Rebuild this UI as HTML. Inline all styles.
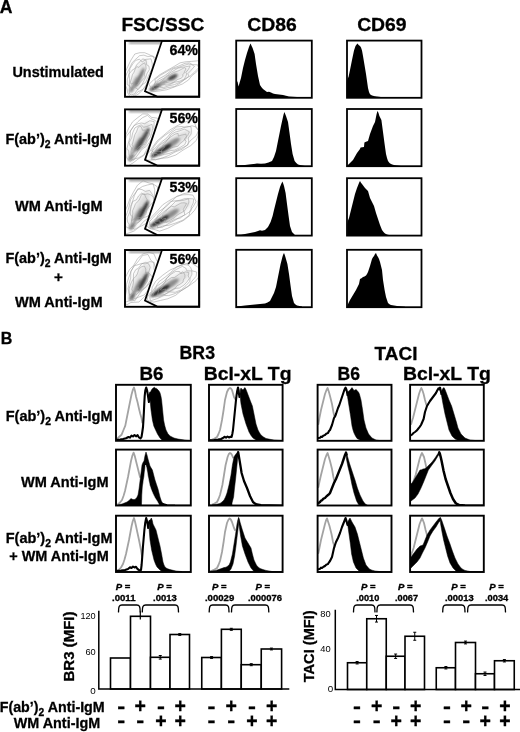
<!DOCTYPE html>
<html lang="en"><head><meta charset="utf-8"><title>Figure</title>
<style>
html,body{margin:0;padding:0;background:#fff;}
svg{display:block;font-family:"Liberation Sans",Arial,Helvetica,sans-serif;fill:#000;}
text[font-weight="bold"]{stroke:#000;stroke-width:.3px;}
</style></head><body>
<svg width="520" height="732" viewBox="0 0 520 732">
<defs>
<filter id="b1" x="-50%" y="-50%" width="200%" height="200%"><feGaussianBlur stdDeviation="0.95"/></filter>
<filter id="b2" x="-50%" y="-50%" width="200%" height="200%"><feGaussianBlur stdDeviation="2.4"/></filter>
</defs>
<rect x="0" y="0" width="520" height="732" fill="#fff"/>
<text x="-0.2" y="12.7" font-size="17.6" font-weight="bold" text-anchor="start" >A</text>
<text x="162.8" y="31" font-size="19" font-weight="bold" text-anchor="middle" textLength="82.8" lengthAdjust="spacingAndGlyphs" >FSC/SSC</text>
<text x="272" y="30.7" font-size="19" font-weight="bold" text-anchor="middle" textLength="49.5" lengthAdjust="spacingAndGlyphs" >CD86</text>
<text x="381.9" y="30.7" font-size="19" font-weight="bold" text-anchor="middle" textLength="49.5" lengthAdjust="spacingAndGlyphs" >CD69</text>
<text x="12.4" y="77" font-size="15.2" font-weight="bold" text-anchor="start" textLength="91.5" lengthAdjust="spacingAndGlyphs" >Unstimulated</text>
<text x="5.4" y="144" font-size="15.2" font-weight="bold" text-anchor="start" textLength="106.5" lengthAdjust="spacingAndGlyphs" >F(ab’)<tspan font-size="10.94" dy="4.1">2</tspan><tspan dy="-4.1"> Anti-IgM</tspan></text>
<text x="15" y="210.5" font-size="15.2" font-weight="bold" text-anchor="start" textLength="87.5" lengthAdjust="spacingAndGlyphs" >WM Anti-IgM</text>
<text x="5.4" y="263" font-size="15.2" font-weight="bold" text-anchor="start" textLength="106.5" lengthAdjust="spacingAndGlyphs" >F(ab’)<tspan font-size="10.94" dy="4.1">2</tspan><tspan dy="-4.1"> Anti-IgM</tspan></text>
<text x="58.5" y="282.1" font-size="15.2" font-weight="bold" text-anchor="middle" >+</text>
<text x="15" y="307" font-size="15.2" font-weight="bold" text-anchor="start" textLength="87.5" lengthAdjust="spacingAndGlyphs" >WM Anti-IgM</text>
<clipPath id="cL0"><polygon points="125,40.8 161.5,40.8 144.3,91.6 156.5,96.8 125,96.8"/></clipPath>
<clipPath id="cR0"><polygon points="162.5,40.8 199.2,40.8 199.2,96.8 158,96.8 145.7,91"/></clipPath>
<g clip-path="url(#cL0)">
<rect x="129" y="41.6" width="33" height="2" fill="#555" opacity="0.7" filter="url(#b1)"/>
<ellipse cx="138.3" cy="75.8" rx="18.4" ry="4.96" transform="rotate(-64 138.3 75.8)" fill="#777" opacity="0.2" filter="url(#b2)"/>
<ellipse cx="139.5" cy="77.8" rx="11" ry="1.9" transform="rotate(-64 139.5 77.8)" fill="#181818" opacity="0.55" filter="url(#b1)"/>
<ellipse cx="134.5" cy="82.8" rx="7" ry="1.6" transform="rotate(-66 134.5 82.8)" fill="#181818" opacity="0.35" filter="url(#b1)"/>
<ellipse cx="131.5" cy="89.8" rx="3.2" ry="2" transform="rotate(-60 131.5 89.8)" fill="#181818" opacity="0.4" filter="url(#b1)"/>
<path d="M148.7,54.4 L152.8,56.5 L157.6,58.6 L157.5,65.1 L154.6,72.2 L152.0,78.4 L147.6,84.3 L143.0,89.7 L138.2,94.2 L133.9,96.6 L129.3,100.9 L125.8,101.4 L125.3,96.4 L124.7,92.0 L124.7,86.6 L124.4,80.7 L124.6,73.5 L127.8,66.6 L130.9,60.2 L134.8,54.0 L139.8,52.7 L144.6,52.7Z M147.7,56.5 L153.1,56.0 L155.0,60.9 L152.9,67.7 L151.5,72.8 L149.1,77.9 L146.8,83.6 L142.9,89.4 L138.2,91.7 L134.2,95.3 L130.5,97.5 L129.0,94.9 L127.6,92.7 L127.1,89.2 L125.6,85.8 L123.9,80.9 L126.6,73.8 L129.6,68.2 L132.1,62.7 L135.7,59.2 L139.6,55.7 L143.9,55.1Z M146.3,59.4 L151.0,58.8 L152.2,63.4 L152.3,68.1 L149.7,73.2 L147.7,77.6 L145.6,82.5 L141.4,85.1 L138.2,88.6 L134.5,93.9 L131.4,94.9 L129.4,94.0 L129.5,89.7 L129.8,85.9 L127.2,84.6 L127.3,79.7 L129.0,74.2 L130.0,68.5 L132.7,64.0 L135.8,60.3 L139.4,59.3 L142.1,61.9Z M146.0,60.0 L146.6,64.7 L149.0,66.2 L149.3,69.7 L146.8,73.9 L145.9,77.3 L143.9,80.9 L141.6,85.6 L138.2,89.7 L135.7,87.8 L134.1,87.6 L131.8,89.1 L130.8,87.7 L129.3,86.5 L129.4,82.8 L129.6,78.9 L129.0,74.2 L132.0,70.3 L134.9,68.5 L136.6,65.0 L139.2,62.2 L142.9,58.9Z M144.6,62.8 L145.8,65.7 L146.1,68.8 L144.6,72.3 L144.3,74.4 L145.2,77.1 L142.7,79.8 L140.4,82.1 L138.2,85.3 L136.1,86.1 L134.5,86.4 L134.1,84.5 L134.0,82.6 L131.2,84.2 L130.3,82.2 L131.6,78.2 L132.4,74.8 L134.1,72.1 L135.2,69.2 L136.8,66.6 L138.9,67.4 L141.3,64.8Z" fill="none" stroke="#9c9c9c" stroke-width="0.55"/>
</g>
<g clip-path="url(#cR0)">
<ellipse cx="174" cy="76.8" rx="20" ry="4.03" transform="rotate(-27 174 76.8)" fill="#777" opacity="0.2" filter="url(#b2)"/>
<ellipse cx="172.5" cy="77.3" rx="5.5" ry="2.4" transform="rotate(-28 172.5 77.3)" fill="#181818" opacity="0.75" filter="url(#b1)"/>
<ellipse cx="155" cy="87.3" rx="6.5" ry="2.1" transform="rotate(-30 155 87.3)" fill="#181818" opacity="0.8" filter="url(#b1)"/>
<ellipse cx="163" cy="82.8" rx="5" ry="1.8" transform="rotate(-30 163 82.8)" fill="#181818" opacity="0.4" filter="url(#b1)"/>
<path d="M200.4,63.3 L200.6,67.0 L196.9,71.7 L191.6,75.9 L188.6,79.9 L182.4,84.0 L174.6,86.9 L167.0,89.7 L160.4,90.8 L154.8,91.5 L151.0,91.0 L151.8,88.1 L150.1,86.6 L149.2,84.2 L153.6,79.7 L159.4,74.9 L166.6,70.7 L173.2,67.0 L180.2,62.8 L186.2,61.7 L191.5,61.4 L197.8,60.8Z M197.6,64.8 L198.6,67.8 L194.5,72.2 L190.3,75.9 L184.9,79.1 L180.8,82.6 L174.6,86.5 L168.1,87.6 L162.1,89.1 L156.7,90.0 L154.6,88.8 L153.0,87.5 L154.8,84.7 L155.5,82.4 L154.9,79.5 L160.7,75.1 L167.4,71.3 L173.3,68.0 L178.8,66.0 L185.0,63.3 L189.8,62.9 L192.2,64.6Z M194.5,66.4 L190.7,70.7 L187.8,73.7 L188.9,76.0 L185.3,79.2 L180.2,82.1 L174.5,84.6 L169.2,85.7 L163.5,87.6 L160.3,87.2 L160.6,85.0 L156.4,85.8 L153.9,85.1 L155.1,82.5 L158.6,79.0 L164.9,75.6 L168.8,72.5 L173.3,68.9 L178.1,67.6 L183.0,65.7 L188.4,64.1 L192.0,64.7Z M188.3,69.5 L185.9,72.4 L186.8,73.9 L185.9,76.2 L184.3,79.0 L179.3,81.4 L174.3,82.3 L169.8,84.5 L165.9,85.2 L164.3,84.2 L161.3,84.6 L159.4,84.2 L156.6,84.0 L157.2,81.8 L163.8,78.3 L166.9,75.9 L169.6,73.1 L173.5,70.8 L177.8,68.2 L181.6,67.4 L185.4,66.8 L190.2,65.9Z M184.7,71.3 L184.1,73.1 L182.6,74.9 L183.1,76.3 L181.0,78.3 L177.3,79.6 L174.3,81.9 L170.4,83.4 L168.1,82.8 L166.5,82.5 L166.4,81.5 L163.3,82.3 L159.9,82.6 L163.1,80.1 L165.4,78.0 L167.5,76.0 L170.8,74.2 L173.6,72.3 L176.3,71.6 L179.0,70.6 L184.4,67.7 L186.0,68.8Z" fill="none" stroke="#9c9c9c" stroke-width="0.55"/>
</g>
<rect x="125" y="40.8" width="74.2" height="56" fill="none" stroke="#000" stroke-width="1.9"/>
<polygon points="162,40.8 199.2,40.8 199.2,96.6 157.3,96.6 145,91.3" fill="none" stroke="#000" stroke-width="1.75" stroke-linejoin="miter"/>
<text x="169.5" y="54.6" font-size="14.3" font-weight="bold" text-anchor="start" textLength="28.5" lengthAdjust="spacingAndGlyphs" >64%</text>
<clipPath id="cL1"><polygon points="125,109.4 161.5,109.4 144.3,160.2 156.5,165.7 125,165.7"/></clipPath>
<clipPath id="cR1"><polygon points="162.5,109.4 199.2,109.4 199.2,165.7 158,165.7 145.7,159.6"/></clipPath>
<g clip-path="url(#cL1)">
<rect x="129" y="110.2" width="33" height="2" fill="#555" opacity="0.7" filter="url(#b1)"/>
<ellipse cx="139.5" cy="139.4" rx="20" ry="5.27" transform="rotate(-61 139.5 139.4)" fill="#777" opacity="0.27" filter="url(#b2)"/>
<ellipse cx="143" cy="139.4" rx="13" ry="2.2" transform="rotate(-61 143 139.4)" fill="#181818" opacity="0.75" filter="url(#b1)"/>
<ellipse cx="137" cy="145.4" rx="9" ry="1.8" transform="rotate(-63 137 145.4)" fill="#181818" opacity="0.45" filter="url(#b1)"/>
<ellipse cx="131" cy="157.4" rx="4" ry="2.2" transform="rotate(-55 131 157.4)" fill="#181818" opacity="0.55" filter="url(#b1)"/>
<path d="M151.7,117.4 L157.2,118.1 L160.8,122.0 L160.5,128.9 L158.0,136.1 L152.8,142.6 L148.7,148.8 L143.8,155.5 L138.2,159.0 L133.1,162.9 L128.3,165.8 L125.4,164.9 L123.5,162.2 L124.4,155.8 L124.9,150.0 L123.4,144.3 L125.2,136.3 L128.5,128.6 L132.5,121.9 L137.5,117.8 L142.8,113.9 L147.9,114.1Z M150.9,118.7 L155.2,120.4 L158.4,124.0 L156.2,131.1 L153.8,136.8 L150.8,142.1 L147.7,147.8 L143.7,155.0 L138.2,158.0 L134.2,158.9 L130.2,161.3 L128.2,159.8 L126.6,157.8 L125.9,154.1 L126.1,149.1 L124.3,144.0 L126.2,136.5 L130.7,130.8 L134.0,125.7 L137.8,121.8 L142.3,117.8 L147.5,115.3Z M149.9,120.7 L154.2,121.7 L153.8,127.7 L154.6,131.9 L153.1,136.9 L149.7,141.9 L146.3,146.4 L142.1,149.1 L138.5,154.0 L133.8,160.2 L131.2,159.1 L129.8,156.8 L129.0,154.4 L128.7,151.1 L127.0,148.4 L128.4,142.8 L130.1,137.3 L130.5,130.6 L134.0,125.6 L138.0,123.7 L141.6,123.0 L144.7,123.7Z M146.6,126.6 L152.0,124.3 L152.7,128.6 L151.7,133.3 L150.3,137.4 L147.4,141.3 L145.3,145.4 L141.8,148.0 L138.8,149.7 L135.1,155.5 L132.0,157.2 L131.0,154.7 L130.8,151.8 L131.8,147.8 L130.1,146.2 L129.2,142.5 L131.7,137.7 L132.7,132.8 L134.9,127.9 L138.2,125.9 L141.4,124.8 L143.5,127.3Z M144.6,130.2 L146.6,130.8 L148.7,131.8 L149.8,134.2 L147.3,138.0 L146.4,141.1 L144.5,144.5 L141.1,145.3 L139.0,146.8 L136.9,148.7 L134.5,151.2 L131.6,153.7 L132.3,149.7 L133.2,146.2 L132.2,144.7 L133.2,141.3 L133.9,138.2 L134.8,134.8 L136.5,131.8 L138.3,126.9 L141.1,126.5 L142.5,130.3Z" fill="none" stroke="#9c9c9c" stroke-width="0.55"/>
</g>
<g clip-path="url(#cR1)">
<ellipse cx="173" cy="142.4" rx="21.6" ry="4.96" transform="rotate(-33 173 142.4)" fill="#777" opacity="0.27" filter="url(#b2)"/>
<ellipse cx="161" cy="150.9" rx="12" ry="2.6" transform="rotate(-32 161 150.9)" fill="#181818" opacity="0.85" filter="url(#b1)"/>
<ellipse cx="172" cy="143.4" rx="9" ry="3" transform="rotate(-33 172 143.4)" fill="#181818" opacity="0.4" filter="url(#b1)"/>
<path d="M196.0,127.5 L198.4,130.6 L198.1,135.1 L196.5,140.2 L190.7,145.6 L183.0,150.1 L175.8,155.0 L167.8,157.7 L161.7,158.3 L155.5,159.8 L150.6,160.1 L145.7,160.1 L144.6,157.3 L149.8,151.4 L153.0,146.5 L157.1,140.9 L163.5,135.4 L170.0,129.9 L177.0,125.8 L184.4,122.2 L192.1,119.8 L194.8,123.4Z M196.5,127.1 L198.6,130.5 L196.3,135.6 L190.2,140.8 L187.2,145.0 L182.0,149.3 L175.1,152.0 L168.5,155.6 L161.7,158.2 L155.6,159.6 L151.4,159.4 L153.7,155.0 L153.7,152.6 L151.6,150.7 L154.4,146.2 L158.3,141.0 L164.2,135.9 L170.4,131.6 L176.7,126.9 L182.0,126.5 L185.6,127.5 L192.1,125.8Z M191.4,130.4 L191.1,134.0 L188.2,138.0 L188.7,140.9 L187.8,145.1 L180.9,148.5 L175.0,151.2 L169.2,153.5 L164.5,154.3 L159.6,155.7 L157.9,154.3 L156.0,153.4 L150.8,154.1 L152.8,150.2 L157.9,145.5 L162.3,141.4 L166.9,137.9 L170.7,133.0 L176.2,129.3 L180.6,128.9 L186.6,126.3 L191.0,126.8Z M189.4,131.8 L187.7,135.5 L184.1,139.2 L186.2,141.1 L184.8,144.6 L179.8,147.6 L174.7,150.1 L170.2,150.6 L166.0,152.2 L161.6,153.7 L161.6,151.4 L158.6,151.7 L155.2,151.8 L156.5,148.8 L159.3,145.2 L164.8,141.6 L168.4,139.0 L171.1,134.4 L175.5,132.0 L179.6,130.8 L184.3,129.1 L186.8,130.4Z M185.9,134.1 L186.4,136.2 L186.0,138.6 L182.6,141.5 L179.8,143.7 L177.9,146.2 L174.0,147.0 L171.1,148.0 L166.9,151.0 L163.4,151.9 L160.9,152.0 L162.1,149.5 L164.8,146.7 L162.5,146.5 L163.2,144.4 L166.1,141.8 L168.2,138.8 L171.5,136.4 L175.0,134.1 L178.1,133.4 L178.3,136.1 L181.3,135.2Z" fill="none" stroke="#9c9c9c" stroke-width="0.55"/>
</g>
<rect x="125" y="109.4" width="74.2" height="56.3" fill="none" stroke="#000" stroke-width="1.9"/>
<polygon points="162,109.4 199.2,109.4 199.2,165.5 157.3,165.5 145,159.9" fill="none" stroke="#000" stroke-width="1.75" stroke-linejoin="miter"/>
<text x="169.5" y="123.2" font-size="14.3" font-weight="bold" text-anchor="start" textLength="28.5" lengthAdjust="spacingAndGlyphs" >56%</text>
<clipPath id="cL2"><polygon points="125,178.4 161.5,178.4 144.3,229.2 156.5,235.3 125,235.3"/></clipPath>
<clipPath id="cR2"><polygon points="162.5,178.4 199.2,178.4 199.2,235.3 158,235.3 145.7,228.6"/></clipPath>
<g clip-path="url(#cL2)">
<rect x="129" y="179.2" width="33" height="2" fill="#555" opacity="0.7" filter="url(#b1)"/>
<ellipse cx="140" cy="208.4" rx="20" ry="5.27" transform="rotate(-62 140 208.4)" fill="#777" opacity="0.27" filter="url(#b2)"/>
<ellipse cx="143.5" cy="210.4" rx="11" ry="2.2" transform="rotate(-63 143.5 210.4)" fill="#181818" opacity="0.85" filter="url(#b1)"/>
<ellipse cx="137.5" cy="215.4" rx="9" ry="1.8" transform="rotate(-64 137.5 215.4)" fill="#181818" opacity="0.45" filter="url(#b1)"/>
<ellipse cx="132" cy="226.4" rx="4" ry="2.2" transform="rotate(-55 132 226.4)" fill="#181818" opacity="0.55" filter="url(#b1)"/>
<path d="M153.0,184.0 L157.3,186.7 L158.5,192.8 L159.0,198.5 L157.3,205.0 L154.9,211.7 L151.1,219.4 L144.5,224.3 L139.1,227.2 L134.3,230.9 L130.3,232.5 L126.5,233.7 L124.5,231.3 L124.1,226.2 L122.5,221.5 L123.9,213.6 L127.4,205.9 L129.9,198.8 L133.3,192.3 L137.4,185.3 L143.1,180.7 L148.1,182.7Z M153.1,183.8 L154.8,189.9 L154.3,196.3 L156.0,200.0 L155.4,205.3 L153.5,211.4 L149.2,217.5 L143.7,221.4 L139.1,226.8 L134.7,229.4 L132.3,227.6 L129.5,228.2 L127.1,227.5 L124.7,225.5 L123.9,220.5 L127.3,212.5 L129.2,206.2 L130.6,199.5 L134.2,194.5 L137.9,189.5 L142.4,186.5 L147.3,185.0Z M149.6,190.4 L151.8,193.7 L153.6,196.9 L154.3,200.9 L153.2,205.8 L152.7,211.2 L147.9,216.2 L142.7,218.0 L139.3,221.6 L135.9,224.7 L132.3,227.6 L129.3,228.6 L129.2,224.3 L127.7,222.2 L127.1,218.1 L130.0,211.7 L131.3,206.7 L132.5,201.3 L134.5,195.3 L137.8,188.8 L142.1,189.6 L145.3,191.4Z M147.8,193.8 L150.8,194.9 L153.2,197.2 L153.8,201.2 L149.1,206.6 L146.8,209.9 L145.9,214.3 L142.7,217.9 L139.3,221.7 L136.2,223.2 L134.1,223.1 L131.2,224.9 L131.5,221.0 L132.6,216.7 L130.7,215.4 L130.1,211.6 L130.4,206.5 L132.7,201.5 L136.4,199.8 L138.6,195.9 L141.7,193.1 L144.3,194.6Z M145.8,197.5 L147.1,199.6 L147.2,202.3 L148.5,204.0 L148.6,206.7 L145.9,209.7 L144.8,213.2 L142.4,217.0 L139.5,217.5 L137.6,217.8 L136.6,216.9 L134.8,218.3 L131.7,220.7 L132.2,217.2 L132.8,213.8 L132.6,210.8 L134.2,207.2 L135.4,204.0 L137.3,201.9 L139.1,200.2 L141.5,194.6 L144.5,193.9Z" fill="none" stroke="#9c9c9c" stroke-width="0.55"/>
</g>
<g clip-path="url(#cR2)">
<ellipse cx="173" cy="212.4" rx="21.6" ry="4.96" transform="rotate(-33 173 212.4)" fill="#777" opacity="0.27" filter="url(#b2)"/>
<ellipse cx="159" cy="221.4" rx="11" ry="2.5" transform="rotate(-31 159 221.4)" fill="#181818" opacity="0.88" filter="url(#b1)"/>
<ellipse cx="171" cy="214.4" rx="9" ry="3" transform="rotate(-33 171 214.4)" fill="#181818" opacity="0.4" filter="url(#b1)"/>
<path d="M200.2,194.8 L197.9,200.8 L197.5,205.3 L194.5,210.4 L189.8,215.5 L183.5,220.5 L175.6,224.2 L167.6,228.4 L159.5,231.2 L155.5,229.8 L151.9,229.0 L149.0,228.0 L147.1,226.0 L146.4,222.7 L151.8,216.7 L157.4,210.9 L162.7,204.8 L170.0,200.1 L176.8,196.5 L183.5,193.7 L190.0,192.4 L197.6,191.0Z M194.6,198.4 L196.0,201.7 L193.2,206.5 L190.0,210.8 L189.1,215.4 L183.0,220.1 L175.4,223.1 L168.6,225.3 L163.4,225.8 L157.4,227.9 L152.6,228.5 L152.5,225.7 L149.8,224.6 L149.6,221.5 L154.3,216.2 L159.5,211.1 L165.7,207.0 L170.6,202.4 L176.9,196.3 L182.9,194.8 L188.1,194.6 L192.9,195.1Z M193.7,198.9 L193.2,203.0 L191.2,207.1 L191.1,210.7 L185.3,214.7 L179.4,217.4 L174.8,220.4 L169.4,223.2 L162.4,227.2 L157.5,227.8 L157.7,224.4 L155.3,223.9 L154.5,222.1 L156.5,218.8 L157.8,215.5 L161.7,211.3 L165.1,206.5 L170.3,201.4 L175.8,200.8 L179.8,200.3 L184.6,198.7 L188.8,198.6Z M188.9,202.1 L187.6,205.6 L185.8,208.7 L184.1,211.3 L184.8,214.6 L180.3,218.0 L174.5,219.4 L169.9,221.7 L165.8,222.4 L162.6,222.7 L159.9,222.7 L160.1,220.8 L156.3,221.2 L154.7,219.5 L160.2,215.0 L164.2,211.6 L167.9,208.7 L171.4,205.6 L175.7,201.3 L179.5,200.8 L183.1,200.4 L188.6,198.8Z M186.6,203.5 L184.5,207.1 L183.3,209.4 L183.7,211.4 L179.6,213.6 L176.9,215.4 L174.2,217.9 L170.4,220.0 L166.1,222.1 L164.6,220.8 L165.6,218.2 L162.4,219.3 L161.4,218.5 L162.3,216.6 L162.9,214.5 L165.7,211.7 L168.0,208.7 L171.5,206.2 L174.3,206.9 L177.0,205.3 L181.0,203.0 L184.1,202.8Z" fill="none" stroke="#9c9c9c" stroke-width="0.55"/>
</g>
<rect x="125" y="178.4" width="74.2" height="56.9" fill="none" stroke="#000" stroke-width="1.9"/>
<polygon points="162,178.4 199.2,178.4 199.2,235.1 157.3,235.1 145,228.9" fill="none" stroke="#000" stroke-width="1.75" stroke-linejoin="miter"/>
<text x="169.5" y="192.2" font-size="14.3" font-weight="bold" text-anchor="start" textLength="28.5" lengthAdjust="spacingAndGlyphs" >53%</text>
<clipPath id="cL3"><polygon points="125,250 161.5,250 144.3,300.8 156.5,306.8 125,306.8"/></clipPath>
<clipPath id="cR3"><polygon points="162.5,250 199.2,250 199.2,306.8 158,306.8 145.7,300.2"/></clipPath>
<g clip-path="url(#cL3)">
<rect x="129" y="250.8" width="33" height="2" fill="#555" opacity="0.7" filter="url(#b1)"/>
<ellipse cx="140" cy="280" rx="20" ry="5.27" transform="rotate(-62 140 280)" fill="#777" opacity="0.26" filter="url(#b2)"/>
<ellipse cx="143" cy="282" rx="11" ry="2.2" transform="rotate(-63 143 282)" fill="#181818" opacity="0.8" filter="url(#b1)"/>
<ellipse cx="137" cy="287" rx="9" ry="1.8" transform="rotate(-64 137 287)" fill="#181818" opacity="0.45" filter="url(#b1)"/>
<ellipse cx="132" cy="297" rx="4" ry="2.2" transform="rotate(-55 132 297)" fill="#181818" opacity="0.6" filter="url(#b1)"/>
<path d="M153.9,253.8 L156.3,259.6 L159.0,263.9 L160.0,269.5 L156.8,276.7 L154.1,283.1 L150.2,290.1 L144.7,296.5 L138.9,302.0 L134.3,302.3 L130.9,302.5 L126.8,304.8 L124.8,302.4 L123.6,298.4 L123.3,292.6 L124.5,285.0 L125.5,277.1 L129.3,269.8 L133.8,265.1 L137.6,258.6 L142.9,253.9 L148.7,252.2Z M150.7,259.9 L153.6,262.9 L155.4,266.9 L157.0,271.1 L156.8,276.7 L152.4,282.7 L148.9,288.8 L144.3,294.9 L139.2,296.9 L135.3,298.5 L132.1,299.6 L128.9,300.9 L124.9,302.4 L125.2,296.6 L126.6,290.1 L126.5,284.4 L128.7,277.7 L131.0,271.5 L134.1,265.9 L138.0,261.8 L142.7,255.3 L148.0,254.5Z M149.8,261.6 L154.1,262.3 L153.9,268.2 L155.0,272.2 L154.3,277.2 L150.3,282.3 L146.7,286.7 L142.8,289.7 L139.3,294.3 L134.7,300.9 L132.0,299.9 L130.8,297.4 L129.3,295.8 L129.2,292.1 L128.1,288.9 L129.1,283.6 L130.7,278.1 L130.8,271.3 L134.1,265.9 L138.3,264.6 L141.8,263.4 L145.1,263.9Z M148.6,263.8 L150.2,267.3 L148.5,272.8 L150.5,274.5 L152.3,277.6 L149.2,282.1 L146.3,286.3 L142.7,289.5 L139.4,291.8 L136.3,294.6 L135.0,292.5 L133.5,292.3 L129.7,295.2 L128.8,292.6 L129.3,288.1 L131.1,282.9 L133.4,278.7 L133.5,273.8 L135.7,269.7 L138.7,268.1 L141.8,263.7 L145.5,262.4Z M145.8,269.2 L145.6,272.9 L148.5,272.8 L148.9,275.3 L147.5,278.5 L147.0,281.6 L144.8,284.7 L142.3,288.0 L139.5,289.5 L138.1,287.3 L136.2,289.4 L133.5,292.2 L132.6,291.0 L131.8,289.2 L132.9,285.4 L133.5,282.1 L133.5,278.7 L136.0,276.2 L137.4,273.9 L138.8,269.2 L141.4,266.9 L144.4,266.0Z" fill="none" stroke="#9c9c9c" stroke-width="0.55"/>
</g>
<g clip-path="url(#cR3)">
<ellipse cx="173" cy="283" rx="21.6" ry="4.96" transform="rotate(-33 173 283)" fill="#777" opacity="0.26" filter="url(#b2)"/>
<ellipse cx="160" cy="291" rx="11" ry="2.5" transform="rotate(-31 160 291)" fill="#181818" opacity="0.88" filter="url(#b1)"/>
<ellipse cx="171" cy="284" rx="9" ry="3" transform="rotate(-33 171 284)" fill="#181818" opacity="0.4" filter="url(#b1)"/>
<path d="M197.7,267.0 L201.6,269.7 L200.0,275.1 L196.0,280.8 L188.9,285.9 L182.1,290.0 L175.7,295.3 L167.7,298.8 L160.6,300.4 L153.8,302.1 L149.9,301.3 L147.3,299.7 L147.8,296.2 L151.6,291.3 L152.3,287.2 L155.6,281.4 L162.6,275.3 L169.9,270.1 L176.9,267.0 L183.5,264.4 L190.5,262.3 L194.0,264.8Z M191.9,270.8 L196.7,272.0 L196.2,276.2 L191.9,281.2 L188.7,285.9 L182.3,290.2 L175.3,293.5 L168.7,295.6 L164.0,295.5 L157.3,298.6 L150.5,300.8 L149.8,298.0 L150.1,295.0 L152.8,290.8 L155.9,286.5 L158.9,281.7 L165.1,277.2 L170.5,272.6 L177.0,266.6 L183.4,264.6 L188.2,265.0 L190.7,267.6Z M191.7,270.9 L191.9,274.2 L190.1,278.0 L189.8,281.4 L186.2,285.4 L181.6,289.6 L175.1,292.3 L170.0,291.9 L164.9,294.3 L159.1,296.8 L155.7,296.7 L152.7,296.2 L154.0,293.0 L155.0,290.0 L156.5,286.4 L162.9,282.1 L166.9,278.5 L170.7,273.5 L176.2,269.5 L182.3,266.4 L185.7,268.0 L186.9,270.9Z M188.9,272.7 L188.2,275.9 L189.4,278.2 L187.2,281.6 L184.1,285.0 L179.4,288.0 L174.2,288.4 L170.4,290.7 L164.8,294.5 L160.8,295.1 L157.7,295.0 L158.0,292.7 L158.8,290.4 L157.7,288.9 L161.9,285.3 L165.0,282.3 L166.6,278.2 L170.9,274.4 L175.8,271.4 L179.5,271.5 L180.8,273.8 L185.7,271.9Z M184.9,275.3 L184.8,277.5 L183.2,280.0 L183.1,282.0 L179.8,284.3 L176.8,285.9 L174.4,289.3 L170.2,291.3 L167.1,291.3 L165.3,290.7 L165.5,288.9 L162.1,290.1 L160.1,289.8 L162.8,287.0 L163.0,285.0 L164.9,282.2 L168.4,279.6 L171.7,277.5 L174.3,277.6 L177.1,275.7 L182.4,271.9 L184.2,273.3Z" fill="none" stroke="#9c9c9c" stroke-width="0.55"/>
</g>
<rect x="125" y="250" width="74.2" height="56.8" fill="none" stroke="#000" stroke-width="1.9"/>
<polygon points="162,250 199.2,250 199.2,306.6 157.3,306.6 145,300.5" fill="none" stroke="#000" stroke-width="1.75" stroke-linejoin="miter"/>
<text x="169.5" y="263.8" font-size="14.3" font-weight="bold" text-anchor="start" textLength="28.5" lengthAdjust="spacingAndGlyphs" >56%</text>
<polygon points="236.8,97.8 236.8,83 237.4,81 238,84 238.6,86.5 239.5,83 241,78 242,73 243,68 244,64 245,60 246,56.5 247,53 248,50 249,47 249.8,45 250.6,43.6 251.6,46 252.6,48 253.6,51 254.6,54 255.3,59 256,64 257,70 258,76 259,80.5 260,85 261.5,87.3 263,89 265,90.6 267,92 269,91.8 271,92.4 273,93.4 275,94 279,94.6 283,95 286,95.8 289,96.4 297,97 305,97.3 305,97.8" fill="#000"/>
<polygon points="346.8,97.8 346.8,82 347.4,79 348.5,77 350,70 352,60 354,50.5 355.5,46 356.8,44.2 357.6,43.6 358.6,45 360,46 361,47.5 362,50.5 363,56 364,62 365,68 366,74 367,81 368,88 369,92 370,94.2 372,95.5 375,96.2 381,97 395,97.5 405,97.8 405,97.8" fill="#000"/>
<rect x="236.2" y="40.6" width="75.6" height="57.2" fill="none" stroke="#000" stroke-width="1.8"/>
<rect x="347" y="40.6" width="74.5" height="57.2" fill="none" stroke="#000" stroke-width="1.8"/>
<polygon points="237,166.2 237,165.3 245,165 251,164.3 257,163.6 261,163.8 265,163.6 268.5,162.6 272,161 273,159 274,157 275,154 276,151 276.7,147.5 277.4,144 278.2,140 279,136 280,131 281,126 282,121.5 283,117 283.7,114 284.4,112 285.2,114 286,116 287,119 288,122 288.7,127 289.4,132 290.2,138 291,144 291.8,149 292.6,154 293.6,157.5 294.6,161 296.3,163 298,164.4 301,165.3 305,166 305,166.2" fill="#000"/>
<polygon points="347.4,166.2 347.4,165.3 349,164 351,162 353,160 355,156.5 357,153 358.5,151 360,149 360.6,147.6 362.3,147.3 364,147 364.4,142.4 366,141.7 368,141 369,137.5 370,134 371.5,130 373,126 374,124 375,122 375.7,118.5 376.4,115 377,112.5 377.6,111 378.5,113 379.4,116 380.4,118 381.4,120 382.2,126 383,132 383.8,138 384.6,144 385.3,149 386,154 387,158 388,161 389.5,163 391,164 393,164.8 395,165.2 401,166 408,166.3 408,166.2" fill="#000"/>
<rect x="236.2" y="109" width="75.6" height="57.2" fill="none" stroke="#000" stroke-width="1.8"/>
<rect x="347" y="109" width="74.5" height="57.2" fill="none" stroke="#000" stroke-width="1.8"/>
<polygon points="237,235.6 237,234.6 241,234.4 245,234 250,233 255,232 258,231 260,230.3 262,230.8 265,230 266.5,228.6 268,227 269.3,224.5 270.6,222 271.6,219 272.6,216 273.3,213 274,210 275,206 276,202 277,198 278,194 279,190.5 280,187 281.2,184 282.4,181.6 283.2,183.5 284,186 284.8,189.5 285.6,193 286.3,198.5 287,204 287.8,210 288.6,216 289.3,221 290,226 291,229 292,232 293.5,233.6 295,235 299,235.5 299,235.6" fill="#000"/>
<polygon points="347.2,235.6 347.2,224 347.8,221 349,218 350,214 351,210 352,206 353,202 354,198 355,194 356,191 357,188 357.8,186 358.6,184 359.3,182.3 360,181 361,182.7 362,184 363.5,186 365,188 366.5,189.5 368,191 369,194.5 370,198 371,200 372,202 373,204 374,206 375,209.5 376,213 377,216 378,219 379,222 380,225 381,227.5 382,230 383.5,232 385,233.6 387,234.5 389,235 395,235.6 395,235.6" fill="#000"/>
<rect x="236.2" y="178.2" width="75.6" height="57.4" fill="none" stroke="#000" stroke-width="1.8"/>
<rect x="347" y="178.2" width="74.5" height="57.4" fill="none" stroke="#000" stroke-width="1.8"/>
<polygon points="237,307.2 237,306.2 241,306 245,305.6 250,305 255,304.4 260,304 265,303.6 267.5,302.4 270,301 271,299 272,297 273,295 274,293 275,290 276,287 276.7,283.5 277.4,280 278.2,276 279,272 279.8,268 280.6,264 281.5,260.5 282.4,257 283.2,254.6 284,253 284.7,254.8 285.4,257 286.4,260.5 287.4,264 288.2,269 289,274 289.8,280 290.6,286 291.3,291 292,296 293,299.5 294,303 295.5,304.4 297,305.6 302,306.5 302,307.2" fill="#000"/>
<polygon points="347.4,307.2 347.4,305.5 348.5,303 350,300 351.5,297.5 353,295 354.5,292.5 356,290 357.5,287 359,284 359.6,281 360,279 361.5,278.2 363,277 364.5,276.6 366,275.6 367,274 368,272 369,269 370,266 371,262.5 372,259 373,257.3 374,256 375,254 376,253 377,255.5 378,257 379,259 380,262 381,266 382,270 382.5,275 383,280 383.8,285 384.6,290 385.3,293.5 386,297 387,300 388,303 389.5,304.3 391,305 394,305.6 397,306 405,306.8 405,307.2" fill="#000"/>
<rect x="236.2" y="249.8" width="75.6" height="57.4" fill="none" stroke="#000" stroke-width="1.8"/>
<rect x="347" y="249.8" width="74.5" height="57.4" fill="none" stroke="#000" stroke-width="1.8"/>
<text x="0.8" y="344.3" font-size="16" font-weight="bold" text-anchor="start" >B</text>
<text x="197.3" y="359.3" font-size="19" font-weight="bold" text-anchor="middle" textLength="35.5" lengthAdjust="spacingAndGlyphs" >BR3</text>
<text x="396" y="359.8" font-size="19" font-weight="bold" text-anchor="middle" textLength="42.8" lengthAdjust="spacingAndGlyphs" >TACI</text>
<text x="151.4" y="380" font-size="19" font-weight="bold" text-anchor="middle" textLength="24" lengthAdjust="spacingAndGlyphs" >B6</text>
<text x="247.6" y="380" font-size="19" font-weight="bold" text-anchor="middle" textLength="87.8" lengthAdjust="spacingAndGlyphs" >Bcl-xL Tg</text>
<text x="348.8" y="380" font-size="19" font-weight="bold" text-anchor="middle" textLength="22.5" lengthAdjust="spacingAndGlyphs" >B6</text>
<text x="446.9" y="380" font-size="19" font-weight="bold" text-anchor="middle" textLength="87.8" lengthAdjust="spacingAndGlyphs" >Bcl-xL Tg</text>
<text x="5.7" y="420.7" font-size="15.2" font-weight="bold" text-anchor="start" textLength="106.8" lengthAdjust="spacingAndGlyphs" >F(ab’)<tspan font-size="10.94" dy="4.1">2</tspan><tspan dy="-4.1"> Anti-IgM</tspan></text>
<text x="21" y="486.5" font-size="15.2" font-weight="bold" text-anchor="start" textLength="87.5" lengthAdjust="spacingAndGlyphs" >WM Anti-IgM</text>
<text x="5.7" y="543" font-size="15.2" font-weight="bold" text-anchor="start" textLength="106.8" lengthAdjust="spacingAndGlyphs" >F(ab’)<tspan font-size="10.94" dy="4.1">2</tspan><tspan dy="-4.1"> Anti-IgM</tspan></text>
<text x="9.2" y="560.8" font-size="15.2" font-weight="bold" text-anchor="start" textLength="99.5" lengthAdjust="spacingAndGlyphs" >+ WM Anti-IgM</text>
<clipPath id="cB00"><rect x="116" y="384.8" width="74.80000000000001" height="56.0"/></clipPath>
<g clip-path="url(#cB00)">
<polyline points="117,439 119,437 121.5,434.8 123.5,430 125.3,425.6 127,417 128.4,410 130,402 131.5,394.8 132.8,390 134,387.5 135,391 136,396.4 137.5,402 139,408.7 140.3,414 141.5,418 142.3,422.5" fill="none" stroke="#a3a3a3" stroke-width="1.8" stroke-linejoin="round" stroke-linecap="round"/>
<polygon points="149.6,392 150,400 151,410 152.4,420 153.8,426 155.6,430 157.5,434 160,438 162,440 190,440.5 186,440.3 178,439 174,438 170,436 167.8,433.5 166,430 164.6,425 163.6,420 162.6,410 161.6,400 161,396.5 160,392.8 159,391 157.8,389.6 156.5,388.4 155.5,388.2 154.4,387.3 153.5,387.8 152.5,388.6 151.4,390 150.6,392" fill="#000" stroke="#000" stroke-width="0.5" stroke-linejoin="round"/>
<polyline points="117,439.8 120,439.6 123,439 126,438.3 128.5,437 130,437.6 131.5,435.5 133,436.5 134.5,435 136,436.3 137.6,435.2 139,437.5 140.5,438.5 141.5,437 142.3,432 143,427 143.5,419 143.9,411.8 144.3,403 144.7,396 145.3,390.5 146.2,387.6 147,390 147.6,393.3 148.3,398 148.9,402 149.6,398 150,394" fill="none" stroke="#000" stroke-width="2.1" stroke-linejoin="round" stroke-linecap="round"/>
</g>
<rect x="116" y="384.8" width="74.8" height="56" fill="none" stroke="#000" stroke-width="1.9"/>
<clipPath id="cB01"><rect x="116" y="449.6" width="74.80000000000001" height="55.89999999999998"/></clipPath>
<g clip-path="url(#cB01)">
<polyline points="117,504.5 118.4,504 120,502.5 122,500 123.5,496 125,491 126.5,484 128,477 129.5,469 131,461 132.4,455.5 133.6,452.6 134.8,456 136,461 137,465 138,469 139,473 140,477" fill="none" stroke="#a3a3a3" stroke-width="1.8" stroke-linejoin="round" stroke-linecap="round"/>
<polygon points="118,505 122,504 127,502 129,500.5 131,498.6 133,499.6 135,499.4 136.8,497.5 138,495 139,489 140,481 141,473 142,465 143,462.5 144,461 145,455.5 146,452 147,455 148,459 149,462.5 150,466 151.2,468 152.4,470 153.7,475 155,480 156.5,484.5 158,489 159,493 160,497 161.2,500.5 162.4,503 164.5,504.5 167,505 167,506 118,506" fill="#000" stroke="#000" stroke-width="0.5" stroke-linejoin="round"/>
<polygon points="142,504.8 142.2,495 143,485 144.5,475 145.6,465 146.5,468 148,477 149.6,485 151.3,490 153,494 155,498 157,501 159,504.8" fill="#fff" stroke="#fff" stroke-width="0.5" stroke-linejoin="round"/>
<polyline points="162,503.5 167,505 175,505.3 190,505.5" fill="none" stroke="#000" stroke-width="1.5" stroke-linejoin="round" stroke-linecap="round"/>
</g>
<rect x="116" y="449.6" width="74.8" height="55.9" fill="none" stroke="#000" stroke-width="1.9"/>
<clipPath id="cB02"><rect x="116" y="515.7" width="74.80000000000001" height="56.299999999999955"/></clipPath>
<g clip-path="url(#cB02)">
<polyline points="117,570.5 119,569.6 121,567.5 123,564 124.5,559.5 126,554 127.5,547 129,540 130.3,533 131.6,526 132.8,521 134,518 135,521.5 136,526 137.5,533 139,540 140,545 141,550 142,556" fill="none" stroke="#a3a3a3" stroke-width="1.8" stroke-linejoin="round" stroke-linecap="round"/>
<polygon points="149.6,522 149.2,530 150,540 151.6,550 152.8,555 154,560 155.5,564 157,567 160,570 162,571.5 182,571.6 176,571 170,569.6 167,568.6 165,567 164,565 163,562 162.3,558 161.6,554 160.8,550 160,546 159,542 158,538 157,534 156,530 154.5,527 153,524 152.3,520.5 151.4,518 150.3,519.5" fill="#000" stroke="#000" stroke-width="0.5" stroke-linejoin="round"/>
<polyline points="117,571 121,570.6 125,570 128,569 130,567.3 131.5,568 133,566.5 134.5,567.5 136,566.8 137.5,569 139.5,570.3 141,570 141.6,565 142,560 142.5,553 143,546 143.7,538 144.4,530 145.2,523 146.2,518 147,521 147.6,524 148.2,528 148.8,524 149.6,521" fill="none" stroke="#000" stroke-width="2.1" stroke-linejoin="round" stroke-linecap="round"/>
</g>
<rect x="116" y="515.7" width="74.8" height="56.3" fill="none" stroke="#000" stroke-width="1.9"/>
<clipPath id="cB10"><rect x="209" y="384.8" width="73.60000000000002" height="56.0"/></clipPath>
<g clip-path="url(#cB10)">
<polyline points="210,440 212,439.6 214.5,438.6 217,437 218.5,434 220,430 221,425 222,420 222.8,415 223.6,410 224.3,405 225,400 226,396 227,392 228.5,389 230,388 231,388.6 232,390 233,393.5 234,397 235,398.8 235.8,398" fill="none" stroke="#a3a3a3" stroke-width="1.8" stroke-linejoin="round" stroke-linecap="round"/>
<polygon points="240,394 240.4,399 241,404 242,409 243,414 244.5,419 246,424 247.5,428 249,432 251,435.5 253,438 256,440 258,441 282,440.5 274,440 270,439.3 266,438.4 263.5,437 261,435 259.5,432.8 258,430 257,427 256,424 255,419 254,414 253.2,410 252.4,406 251.2,403 250,400 248.5,396 247,392 246,389.5 245,387.6 244,388.5 243,389.8 242,389.5 241,388 240.3,390" fill="#000" stroke="#000" stroke-width="0.5" stroke-linejoin="round"/>
<polyline points="210,440.2 214,440 218,439.6 221,439 223,438 224.5,436.8 226,437.6 227.5,436.5 229,437.5 230.5,436.8 231.6,437 232.3,434 233,430 233.5,425 234,420 234.5,415 235,410 235.5,405 236,400 236.6,395 237.3,390.5 238,387.6 238.6,390 239,394 239.5,397" fill="none" stroke="#000" stroke-width="2.1" stroke-linejoin="round" stroke-linecap="round"/>
</g>
<rect x="209" y="384.8" width="73.6" height="56" fill="none" stroke="#000" stroke-width="1.9"/>
<clipPath id="cB11"><rect x="209" y="449.6" width="73.60000000000002" height="55.89999999999998"/></clipPath>
<g clip-path="url(#cB11)">
<polyline points="210,505 212,504.6 214.5,503.6 217,502 218.5,499 220,495 221.2,490 222.4,485 223.2,480 224,475 224.8,470 225.6,465 226.6,461 227.6,457 228.8,454 230,453 231,453.6 232,455 233,457.5" fill="none" stroke="#a3a3a3" stroke-width="1.8" stroke-linejoin="round" stroke-linecap="round"/>
<polygon points="212,505 216,504.4 220,503.4 222,502 224,500 225.5,497 227,493 228,489 229,485 230,480 231,475 231.7,470 232.4,465 233.2,461 234,457 235,455.3 236,454 237,452.6 238,452 238.3,455 237.6,459 237.1,464 236.6,469 236.1,474 235.6,479 235,484 234.4,489 234,493 233.6,497 232.8,500 232,503 232,505" fill="#000" stroke="#000" stroke-width="0.5" stroke-linejoin="round"/>
<polyline points="238.2,452.2 239,457 240,463 240.8,468 241.6,473 242.8,477 244,481 245.5,484.5 247,488 248.5,492 250,496 251.5,499 253,502 255,503.6 257,504.5 261,505.2 270,505.4 282,505.6" fill="none" stroke="#000" stroke-width="2.3" stroke-linejoin="round" stroke-linecap="round"/>
</g>
<rect x="209" y="449.6" width="73.6" height="55.9" fill="none" stroke="#000" stroke-width="1.9"/>
<clipPath id="cB12"><rect x="209" y="515.7" width="73.60000000000002" height="56.299999999999955"/></clipPath>
<g clip-path="url(#cB12)">
<polyline points="210,571.2 212,570.6 214.5,569.6 217,568 218.5,565 220,561 221,556.5 222,552 222.8,547 223.6,542 224.3,537 225,532 226,527.5 227,523 228.3,520 229.6,518.4 230.8,519.5 232,522 233,525 234,528 235,530" fill="none" stroke="#a3a3a3" stroke-width="1.8" stroke-linejoin="round" stroke-linecap="round"/>
<polygon points="211,571.3 216,570.4 220,569 224,567.6 226,567.2 228,566 229.3,564.5 230.4,562 231.4,558 232.4,554 233.2,549 234,544 234.8,539 235.6,534 236.3,529 237,524 237.8,520 238.6,517.6 238.8,522 238.4,526 237.8,531 237.2,536 236.6,541 236,546 235.3,551 234.6,556 233.8,560 233,564 232,566.5 231,569 229,571.5" fill="#000" stroke="#000" stroke-width="0.5" stroke-linejoin="round"/>
<polygon points="238.6,517.6 239.4,519.5 240,522 241.2,526 242.4,530 243.7,534 245,538 246.5,540.5 248,543 249.5,545.5 251,548 251.7,551 252.4,554 253.2,557 254,560 255.2,562.5 256.4,565 258,567 260,568.4 263,569.6 266,570.4 272,571.5 282,572 255,572 253.6,571 251,568 249.5,565 248,562 246.5,558 245,554 243.7,550 242.4,546 241.5,541 240.6,536 239.9,531 239.2,526 238.8,522" fill="#000" stroke="#000" stroke-width="0.5" stroke-linejoin="round"/>
</g>
<rect x="209" y="515.7" width="73.6" height="56.3" fill="none" stroke="#000" stroke-width="1.9"/>
<clipPath id="cB20"><rect x="317.6" y="384.8" width="73.89999999999998" height="56.0"/></clipPath>
<g clip-path="url(#cB20)">
<polyline points="318.4,424 319.4,418 320.2,414 321,410 322,406 323,402 324,398 325,394 326.3,390.5 327.6,388 328.8,391.5 330,396 331,400 332,404 332.7,408 333.4,412 334,415 334.6,417" fill="none" stroke="#a3a3a3" stroke-width="1.8" stroke-linejoin="round" stroke-linecap="round"/>
<polygon points="347.4,396 348.2,401 349,406 349.8,411 350.6,416 351.3,421 352,426 353,430 354,433 355.5,436 357,438.4 360,440 362,441 391,441 380,440.6 376,440 374,439 372,438 370.3,436 368.6,434 367.3,431 366,428 365,424 364,420 363.3,415 362.6,410 361.8,405 361,400 360.2,397 359.4,394 358.4,392 357.4,391 356.2,389.5 355,390 354,390.5 353,389 352,387.6 350.8,389 349.6,390.5 348.6,391 347.8,392.5" fill="#000" stroke="#000" stroke-width="0.5" stroke-linejoin="round"/>
<polyline points="318.6,438 320,437.8 321,436.6 322,437 323.5,435.6 325,435 326.5,433.6 328,433 329,431 330,430 331,427.5 332,425 333,421.5 334,418 335,416.5 336,414 337,411 338,408 339,405.8 340,403 341,400 342,397 343,394 344,391 344.8,389 345.6,387.6 346.4,389.5 347,392 347.5,395" fill="none" stroke="#000" stroke-width="2.1" stroke-linejoin="round" stroke-linecap="round"/>
</g>
<rect x="317.6" y="384.8" width="73.9" height="56" fill="none" stroke="#000" stroke-width="1.9"/>
<clipPath id="cB21"><rect x="317.6" y="449.6" width="73.89999999999998" height="55.89999999999998"/></clipPath>
<g clip-path="url(#cB21)">
<polyline points="318.4,487 319.4,482 320.2,478.5 321,475 322,471 323,467 324,463 325,459 326.3,455.5 327.6,453 328.8,457 330,461 331,465 332,469 332.7,473 333.4,477 334.6,482" fill="none" stroke="#a3a3a3" stroke-width="1.8" stroke-linejoin="round" stroke-linecap="round"/>
<polygon points="346,452.4 346.8,454 347.4,456 348.4,459.5 349.4,463 350.7,467 352,471 353.5,475.5 355,480 356.2,484 357.4,488 358.7,491.5 360,495 361.5,498 363,501 364.5,503 366,504.6 368,505.6 359.5,505.6 358.6,504.6 356.6,501 355.3,497 354,493 353,489 352,485 351,480 350,475 349,471 348,467 347.2,463 346.4,459" fill="#000" stroke="#000" stroke-width="0.5" stroke-linejoin="round"/>
<polyline points="318.6,503 320,502 321,500.6 322,500.3 323.5,498.6 325,498 326.5,496.3 328,495 329,494.3 330,493 331,490.5 332,488 333,485.5 334,483 335,481 336,479 337,476.5 338,474 339,471.5 340,469 341,466.5 342,464 343,461 344,458 345,455 346,452.6 346.6,454.5" fill="none" stroke="#000" stroke-width="2.4" stroke-linejoin="round" stroke-linecap="round"/>
</g>
<rect x="317.6" y="449.6" width="73.9" height="55.9" fill="none" stroke="#000" stroke-width="1.9"/>
<clipPath id="cB22"><rect x="317.6" y="515.7" width="73.89999999999998" height="56.299999999999955"/></clipPath>
<g clip-path="url(#cB22)">
<polyline points="318.4,553 319.4,548 320.2,544 321,540 322,536 323,532 324,528 325,524 326,520.5 327,518.4 328.2,522 329.5,526 330.5,530 331.5,534 332.3,538 333,542 334.6,547" fill="none" stroke="#a3a3a3" stroke-width="1.8" stroke-linejoin="round" stroke-linecap="round"/>
<polygon points="347.6,524 348.3,529 349,534 349.7,539 350.4,544 351,549 351.6,554 352.5,558 353.4,562 354.7,565 356,568 359,571 361,572 391,572 380,571.6 375,571 372,570.2 369.4,569 367.7,567 366,565 364.7,561.5 363.4,558 362.4,554 361.4,550 360.4,546 359.4,542 358.4,538 357.4,534 356.2,530.5 355,527 353.5,524.5 352,522 351,520 350,518 349,519.6 348,521.5" fill="#000" stroke="#000" stroke-width="0.5" stroke-linejoin="round"/>
<polyline points="318.6,569.2 320,568.8 321,567.6 322,568 323.5,566.8 325,566 326.5,564.6 328,564 329,562.3 330,561 331,559 332,557 333,552.5 334,548 335,545 336,542 337,540 338,538 339,535.5 340,533 341,530 342,527 343,524.5 344,522 344.8,520 345.6,518 346.4,520.5 347,523 347.5,525" fill="none" stroke="#000" stroke-width="2.1" stroke-linejoin="round" stroke-linecap="round"/>
</g>
<rect x="317.6" y="515.7" width="73.9" height="56.3" fill="none" stroke="#000" stroke-width="1.9"/>
<clipPath id="cB30"><rect x="410.1" y="384.8" width="73.69999999999999" height="56.0"/></clipPath>
<g clip-path="url(#cB30)">
<polyline points="411.2,424 412,421 413,418 414,414 415,410 416,406 417,402 418,398 419,394 420.2,390.5 421.4,388 422.5,390.5 423.6,394 424.3,397 425,400 425.7,402.5 426.4,405" fill="none" stroke="#a3a3a3" stroke-width="1.8" stroke-linejoin="round" stroke-linecap="round"/>
<polygon points="441.4,395 442.2,399.5 443,404 444,409 445,414 446,418 447,422 448,426 449,430 450.5,433 452,436 454,438 456,439.6 459,440.5 460,441 484,441 476,440.6 470,440 467.5,439 465,438 463,436 461,434 459.5,431 458,428 457.2,425 456.4,422 455.2,418 454,414 452.8,410 451.6,406 450.3,403 449,400 447.7,396.5 446.4,393 445,389.5 444,387.6 443.3,388 442.5,389 441.6,391" fill="#000" stroke="#000" stroke-width="0.5" stroke-linejoin="round"/>
<polyline points="411,435.2 412,434.6 413.5,433 415,432 416.5,430.8 418,429 419.5,427.2 421,425 422.3,422 423.6,419 424.3,415.5 425,412 426,409 427,406 428.5,403.5 430,401 431.5,399 433,397 434.5,395 436,393 437.2,390.5 438.4,388.4 439.2,389.5 440,387.6 440.6,390 441,392 441.4,394" fill="none" stroke="#000" stroke-width="2.1" stroke-linejoin="round" stroke-linecap="round"/>
</g>
<rect x="410.1" y="384.8" width="73.7" height="56" fill="none" stroke="#000" stroke-width="1.9"/>
<clipPath id="cB31"><rect x="410.1" y="449.6" width="73.69999999999999" height="55.89999999999998"/></clipPath>
<g clip-path="url(#cB31)">
<polyline points="411,486 412,484 413.6,481 414.6,478 415.6,475 416.6,471 417.6,467 418.6,463 419.6,459 420.8,455.5 422,453 423,455 424,457 424.8,460.5 425.6,464 426.4,468" fill="none" stroke="#a3a3a3" stroke-width="1.8" stroke-linejoin="round" stroke-linecap="round"/>
<polygon points="410.5,485 411,484 412.5,482.5 414,480 415.5,477.5 417,475 418.5,472.5 420,470 421.5,469.8 423,469 424.5,468.8 426,468 427.5,466.5 429,465 430.5,463.5 432,462 433.5,460 435,458 436.3,456 437.6,454 438.5,452.6 439.4,452 439.6,454 438,456 436.5,458.5 435,461 433.5,463 432,465 430.2,467.5 428.4,470 427.2,473 426,476 424.8,479 423.6,482 422.3,485 421,488 419.5,491 418,494 416.5,496 415,498 413,499.5 411,501 410.5,501.5" fill="#000" stroke="#000" stroke-width="0.5" stroke-linejoin="round"/>
<polyline points="439.2,452.3 439.8,453.5 440.7,457 441.6,461 442.6,466 443.6,471 444.6,475 445.6,479 446.8,482.5 448,486 449.2,489.5 450.4,493 451.7,496 453,499 454.3,501 455.6,503 457.3,504.2 459,505 465,505.6 484,505.8" fill="none" stroke="#000" stroke-width="2.5" stroke-linejoin="round" stroke-linecap="round"/>
</g>
<rect x="410.1" y="449.6" width="73.7" height="55.9" fill="none" stroke="#000" stroke-width="1.9"/>
<clipPath id="cB32"><rect x="410.1" y="515.7" width="73.69999999999999" height="56.299999999999955"/></clipPath>
<g clip-path="url(#cB32)">
<polyline points="411,555 412.6,551 413.6,548 414.6,544 415.6,540 416.6,536 417.6,532 418.6,528 419.6,524 420.8,521 422,518.4 423,520.5 424,523 424.8,526.5 425.6,530 426.3,532.5 427,535" fill="none" stroke="#a3a3a3" stroke-width="1.8" stroke-linejoin="round" stroke-linecap="round"/>
<polygon points="410.5,558 411,557 412.5,555 414,553 415.5,551 417,549 418.5,547.5 420,546 421.5,545.6 423,545 424,542.5 425,540 426,537.5 427,535 428.5,532.5 430,530 431.5,528 433,526 434.5,524 436,522 437.2,520.5 438.4,519 439.4,518 440.4,517.6 440.4,521 439,522 437.5,524.5 436,527 434.5,529 433,531 431.5,533.5 430,536 428.8,539 427.6,542 426.3,545 425,548 423.7,550.5 422.4,553 421.2,555.5 420,558 418.5,560 417,562 415.5,563.5 414,565 412.5,566.5 411,568 410.5,568.5" fill="#000" stroke="#000" stroke-width="0.5" stroke-linejoin="round"/>
<polygon points="440.4,517.6 441.2,519 442,521 443.2,524.5 444.4,528 445.7,532 447,536 448.5,540 450,544 451.2,547.5 452.4,551 453.7,554.5 455,558 456.5,561 458,564 459.5,566 461,568 463,569.4 465,570.4 470,571.5 484,572 458,572 456,571 453,568 451.5,565.5 450,563 448.8,559.5 447.6,556 446.6,552 445.6,548 444.6,544 443.6,540 442.8,536 442,532 441.3,528 440.6,524 440.4,521" fill="#000" stroke="#000" stroke-width="0.5" stroke-linejoin="round"/>
</g>
<rect x="410.1" y="515.7" width="73.7" height="56.3" fill="none" stroke="#000" stroke-width="1.9"/>
<text x="123.1" y="589.7" font-size="8.3" font-weight="bold" text-anchor="middle" textLength="14.6" lengthAdjust="spacingAndGlyphs"><tspan font-style="italic">P</tspan> =</text>
<text x="123.75" y="600.6" font-size="8.3" font-weight="bold" text-anchor="middle" textLength="23.5" lengthAdjust="spacingAndGlyphs" >.0011</text>
<text x="164.5" y="589.7" font-size="8.3" font-weight="bold" text-anchor="middle" textLength="14.6" lengthAdjust="spacingAndGlyphs"><tspan font-style="italic">P</tspan> =</text>
<text x="164.9" y="600.6" font-size="8.3" font-weight="bold" text-anchor="middle" textLength="23.7" lengthAdjust="spacingAndGlyphs" >.0013</text>
<text x="219.25" y="589.7" font-size="8.3" font-weight="bold" text-anchor="middle" textLength="14.6" lengthAdjust="spacingAndGlyphs"><tspan font-style="italic">P</tspan> =</text>
<text x="219.6" y="600.6" font-size="8.3" font-weight="bold" text-anchor="middle" textLength="29.25" lengthAdjust="spacingAndGlyphs" >.00029</text>
<text x="262.9" y="589.7" font-size="8.3" font-weight="bold" text-anchor="middle" textLength="14.6" lengthAdjust="spacingAndGlyphs"><tspan font-style="italic">P</tspan> =</text>
<text x="265" y="600.6" font-size="8.3" font-weight="bold" text-anchor="middle" textLength="34" lengthAdjust="spacingAndGlyphs" >.000076</text>
<text x="368.25" y="589.7" font-size="8.3" font-weight="bold" text-anchor="middle" textLength="14.6" lengthAdjust="spacingAndGlyphs"><tspan font-style="italic">P</tspan> =</text>
<text x="367.75" y="600.6" font-size="8.3" font-weight="bold" text-anchor="middle" textLength="23" lengthAdjust="spacingAndGlyphs" >.0010</text>
<text x="405.25" y="589.7" font-size="8.3" font-weight="bold" text-anchor="middle" textLength="14.6" lengthAdjust="spacingAndGlyphs"><tspan font-style="italic">P</tspan> =</text>
<text x="406.5" y="600.6" font-size="8.3" font-weight="bold" text-anchor="middle" textLength="23" lengthAdjust="spacingAndGlyphs" >.0067</text>
<text x="458.5" y="589.7" font-size="8.3" font-weight="bold" text-anchor="middle" textLength="14.6" lengthAdjust="spacingAndGlyphs"><tspan font-style="italic">P</tspan> =</text>
<text x="459.4" y="600.6" font-size="8.3" font-weight="bold" text-anchor="middle" textLength="28.75" lengthAdjust="spacingAndGlyphs" >.00013</text>
<text x="496.5" y="589.7" font-size="8.3" font-weight="bold" text-anchor="middle" textLength="14.6" lengthAdjust="spacingAndGlyphs"><tspan font-style="italic">P</tspan> =</text>
<text x="496.6" y="600.6" font-size="8.3" font-weight="bold" text-anchor="middle" textLength="23.25" lengthAdjust="spacingAndGlyphs" >.0034</text>
<path d="M118.5,611.9 C118.5,606.6 119.1,605 121.9,605 L136.79999999999998,605 C139.6,605 140.2,606.6 140.2,611.9" fill="none" stroke="#000" stroke-width="1.35" stroke-linecap="round"/>
<path d="M142.3,611.9 C142.3,606.6 142.9,605 145.70000000000002,605 L175.1,605 C177.9,605 178.5,606.6 178.5,611.9" fill="none" stroke="#000" stroke-width="1.35" stroke-linecap="round"/>
<path d="M209.2,611.9 C209.2,606.6 209.79999999999998,605 212.6,605 L225.6,605 C228.4,605 229,606.6 229,611.9" fill="none" stroke="#000" stroke-width="1.35" stroke-linecap="round"/>
<path d="M231.5,611.9 C231.5,606.6 232.1,605 234.9,605 L265.40000000000003,605 C268.2,605 268.8,606.6 268.8,611.9" fill="none" stroke="#000" stroke-width="1.35" stroke-linecap="round"/>
<path d="M353.5,611.9 C353.5,606.6 354.1,605 356.9,605 L371.6,605 C374.4,605 375,606.6 375,611.9" fill="none" stroke="#000" stroke-width="1.35" stroke-linecap="round"/>
<path d="M376.9,611.9 C376.9,606.6 377.5,605 380.29999999999995,605 L410.1,605 C412.9,605 413.5,606.6 413.5,611.9" fill="none" stroke="#000" stroke-width="1.35" stroke-linecap="round"/>
<path d="M442.7,611.9 C442.7,606.6 443.3,605 446.09999999999997,605 L461.6,605 C464.4,605 465,606.6 465,611.9" fill="none" stroke="#000" stroke-width="1.35" stroke-linecap="round"/>
<path d="M467.6,611.9 C467.6,606.6 468.20000000000005,605 471.0,605 L502.1,605 C504.9,605 505.5,606.6 505.5,611.9" fill="none" stroke="#000" stroke-width="1.35" stroke-linecap="round"/>
<rect x="110.5" y="658" width="20" height="31" fill="#fff" stroke="#000" stroke-width="1.6"/>
<rect x="130.5" y="616.3" width="20" height="72.7" fill="#fff" stroke="#000" stroke-width="1.6"/>
<rect x="150.5" y="657.3" width="19.5" height="31.7" fill="#fff" stroke="#000" stroke-width="1.6"/>
<rect x="170" y="634.5" width="19.5" height="54.5" fill="#fff" stroke="#000" stroke-width="1.6"/>
<rect x="201.75" y="657.5" width="19.65" height="31.5" fill="#fff" stroke="#000" stroke-width="1.6"/>
<rect x="221.4" y="629.3" width="19.85" height="59.7" fill="#fff" stroke="#000" stroke-width="1.6"/>
<rect x="241.25" y="664.7" width="20" height="24.3" fill="#fff" stroke="#000" stroke-width="1.6"/>
<rect x="261.25" y="649" width="20.35" height="40" fill="#fff" stroke="#000" stroke-width="1.6"/>
<path d="M160.25,655.5 V659.1 M158.75,655.5 H161.75 M158.75,659.1 H161.75" stroke="#000" stroke-width="1" fill="none"/>
<path d="M179.75,633.6 V635.4 M178.25,633.6 H181.25 M178.25,635.4 H181.25" stroke="#000" stroke-width="1" fill="none"/>
<path d="M211.575,656.6 V658.4 M210.075,656.6 H213.075 M210.075,658.4 H213.075" stroke="#000" stroke-width="1" fill="none"/>
<path d="M231.325,628.3 V630.3 M229.825,628.3 H232.825 M229.825,630.3 H232.825" stroke="#000" stroke-width="1" fill="none"/>
<path d="M251.25,663.7 V665.7 M249.75,663.7 H252.75 M249.75,665.7 H252.75" stroke="#000" stroke-width="1" fill="none"/>
<path d="M271.425,648.1 V649.9 M269.925,648.1 H272.925 M269.925,649.9 H272.925" stroke="#000" stroke-width="1" fill="none"/>
<path d="M98.8,610.8 V689 H289.3" fill="none" stroke="#000" stroke-width="1.5"/>
<rect x="347.5" y="662.75" width="19.25" height="26.75" fill="#fff" stroke="#000" stroke-width="1.6"/>
<rect x="366.75" y="618.75" width="19.5" height="70.75" fill="#fff" stroke="#000" stroke-width="1.6"/>
<rect x="386.25" y="656.25" width="18.75" height="33.25" fill="#fff" stroke="#000" stroke-width="1.6"/>
<rect x="405" y="636.25" width="19.5" height="53.25" fill="#fff" stroke="#000" stroke-width="1.6"/>
<rect x="436.25" y="667.75" width="19.25" height="21.75" fill="#fff" stroke="#000" stroke-width="1.6"/>
<rect x="455.5" y="642.5" width="20" height="47" fill="#fff" stroke="#000" stroke-width="1.6"/>
<rect x="475.5" y="673.75" width="19" height="15.75" fill="#fff" stroke="#000" stroke-width="1.6"/>
<rect x="494.5" y="660.75" width="19.75" height="28.75" fill="#fff" stroke="#000" stroke-width="1.6"/>
<path d="M357.125,661.55 V663.95 M355.625,661.55 H358.625 M355.625,663.95 H358.625" stroke="#000" stroke-width="1" fill="none"/>
<path d="M376.5,615.45 V622.05 M375,615.45 H378 M375,622.05 H378" stroke="#000" stroke-width="1" fill="none"/>
<path d="M395.625,654.05 V658.45 M394.125,654.05 H397.125 M394.125,658.45 H397.125" stroke="#000" stroke-width="1" fill="none"/>
<path d="M414.75,632.25 V640.25 M413.25,632.25 H416.25 M413.25,640.25 H416.25" stroke="#000" stroke-width="1" fill="none"/>
<path d="M445.875,666.55 V668.95 M444.375,666.55 H447.375 M444.375,668.95 H447.375" stroke="#000" stroke-width="1" fill="none"/>
<path d="M465.5,641.1 V643.9 M464,641.1 H467 M464,643.9 H467" stroke="#000" stroke-width="1" fill="none"/>
<path d="M485,672.05 V675.45 M483.5,672.05 H486.5 M483.5,675.45 H486.5" stroke="#000" stroke-width="1" fill="none"/>
<path d="M504.375,659.55 V661.95 M502.875,659.55 H505.875 M502.875,661.95 H505.875" stroke="#000" stroke-width="1" fill="none"/>
<path d="M335.3,609.8 V689.5 H520" fill="none" stroke="#000" stroke-width="1.5"/>
<path d="M140.3,611.5 V619.5" stroke="#000" stroke-width="1.2" fill="none"/>
<text x="95.7" y="619" font-size="9.8" font-weight="normal" text-anchor="end" textLength="15.3" lengthAdjust="spacingAndGlyphs" >120</text>
<text x="95.7" y="655.3" font-size="9.8" font-weight="normal" text-anchor="end" textLength="10.3" lengthAdjust="spacingAndGlyphs" >60</text>
<text x="95.7" y="694.3" font-size="9.8" font-weight="normal" text-anchor="end" >0</text>
<text x="330.7" y="617" font-size="9.8" font-weight="normal" text-anchor="end" textLength="10.4" lengthAdjust="spacingAndGlyphs" >80</text>
<text x="330.7" y="652.4" font-size="9.8" font-weight="normal" text-anchor="end" textLength="10.4" lengthAdjust="spacingAndGlyphs" >40</text>
<text x="333.2" y="692" font-size="9.8" font-weight="normal" text-anchor="end" >0</text>
<text transform="translate(73.8,646.5) rotate(-90)" font-size="15" font-weight="bold" text-anchor="middle" textLength="70" lengthAdjust="spacingAndGlyphs">BR3 (MFI)</text>
<text transform="translate(313.7,646.3) rotate(-90)" font-size="15" font-weight="bold" text-anchor="middle" textLength="72" lengthAdjust="spacingAndGlyphs">TACI (MFI)</text>
<text x="-0.3" y="712.2" font-size="15.2" font-weight="bold" text-anchor="start" textLength="105" lengthAdjust="spacingAndGlyphs" >F(ab’)<tspan font-size="10.94" dy="4.1">2</tspan><tspan dy="-4.1"> Anti-IgM</tspan></text>
<text x="13.7" y="728" font-size="15.2" font-weight="bold" text-anchor="start" textLength="86.5" lengthAdjust="spacingAndGlyphs" >WM Anti-IgM</text>
<text x="121.3" y="712.7" font-size="19.5" font-weight="bold" text-anchor="middle" textLength="7.9" lengthAdjust="spacingAndGlyphs" >-</text>
<text x="121.3" y="727" font-size="19.5" font-weight="bold" text-anchor="middle" textLength="7.9" lengthAdjust="spacingAndGlyphs" >-</text>
<text x="140.3" y="713.4" font-size="19.5" font-weight="bold" text-anchor="middle" >+</text>
<text x="140.3" y="727" font-size="19.5" font-weight="bold" text-anchor="middle" textLength="7.9" lengthAdjust="spacingAndGlyphs" >-</text>
<text x="161" y="712.7" font-size="19.5" font-weight="bold" text-anchor="middle" textLength="7.9" lengthAdjust="spacingAndGlyphs" >-</text>
<text x="161" y="727.7" font-size="19.5" font-weight="bold" text-anchor="middle" >+</text>
<text x="180.3" y="713.4" font-size="19.5" font-weight="bold" text-anchor="middle" >+</text>
<text x="180.3" y="727.7" font-size="19.5" font-weight="bold" text-anchor="middle" >+</text>
<text x="211.5" y="712.7" font-size="19.5" font-weight="bold" text-anchor="middle" textLength="7.9" lengthAdjust="spacingAndGlyphs" >-</text>
<text x="211.5" y="727" font-size="19.5" font-weight="bold" text-anchor="middle" textLength="7.9" lengthAdjust="spacingAndGlyphs" >-</text>
<text x="231.3" y="713.4" font-size="19.5" font-weight="bold" text-anchor="middle" >+</text>
<text x="231.3" y="727" font-size="19.5" font-weight="bold" text-anchor="middle" textLength="7.9" lengthAdjust="spacingAndGlyphs" >-</text>
<text x="252" y="712.7" font-size="19.5" font-weight="bold" text-anchor="middle" textLength="7.9" lengthAdjust="spacingAndGlyphs" >-</text>
<text x="252" y="727.7" font-size="19.5" font-weight="bold" text-anchor="middle" >+</text>
<text x="271.8" y="713.4" font-size="19.5" font-weight="bold" text-anchor="middle" >+</text>
<text x="271.8" y="727.7" font-size="19.5" font-weight="bold" text-anchor="middle" >+</text>
<text x="357" y="712.7" font-size="19.5" font-weight="bold" text-anchor="middle" textLength="7.9" lengthAdjust="spacingAndGlyphs" >-</text>
<text x="357" y="727" font-size="19.5" font-weight="bold" text-anchor="middle" textLength="7.9" lengthAdjust="spacingAndGlyphs" >-</text>
<text x="376.8" y="713.4" font-size="19.5" font-weight="bold" text-anchor="middle" >+</text>
<text x="376.8" y="727" font-size="19.5" font-weight="bold" text-anchor="middle" textLength="7.9" lengthAdjust="spacingAndGlyphs" >-</text>
<text x="396.3" y="712.7" font-size="19.5" font-weight="bold" text-anchor="middle" textLength="7.9" lengthAdjust="spacingAndGlyphs" >-</text>
<text x="396.3" y="727.7" font-size="19.5" font-weight="bold" text-anchor="middle" >+</text>
<text x="415.7" y="713.4" font-size="19.5" font-weight="bold" text-anchor="middle" >+</text>
<text x="415.7" y="727.7" font-size="19.5" font-weight="bold" text-anchor="middle" >+</text>
<text x="447" y="712.7" font-size="19.5" font-weight="bold" text-anchor="middle" textLength="7.9" lengthAdjust="spacingAndGlyphs" >-</text>
<text x="447" y="727" font-size="19.5" font-weight="bold" text-anchor="middle" textLength="7.9" lengthAdjust="spacingAndGlyphs" >-</text>
<text x="466.3" y="713.4" font-size="19.5" font-weight="bold" text-anchor="middle" >+</text>
<text x="466.3" y="727" font-size="19.5" font-weight="bold" text-anchor="middle" textLength="7.9" lengthAdjust="spacingAndGlyphs" >-</text>
<text x="485.2" y="712.7" font-size="19.5" font-weight="bold" text-anchor="middle" textLength="7.9" lengthAdjust="spacingAndGlyphs" >-</text>
<text x="485.2" y="727.7" font-size="19.5" font-weight="bold" text-anchor="middle" >+</text>
<text x="505" y="713.4" font-size="19.5" font-weight="bold" text-anchor="middle" >+</text>
<text x="505" y="727.7" font-size="19.5" font-weight="bold" text-anchor="middle" >+</text>
</svg>
</body></html>
